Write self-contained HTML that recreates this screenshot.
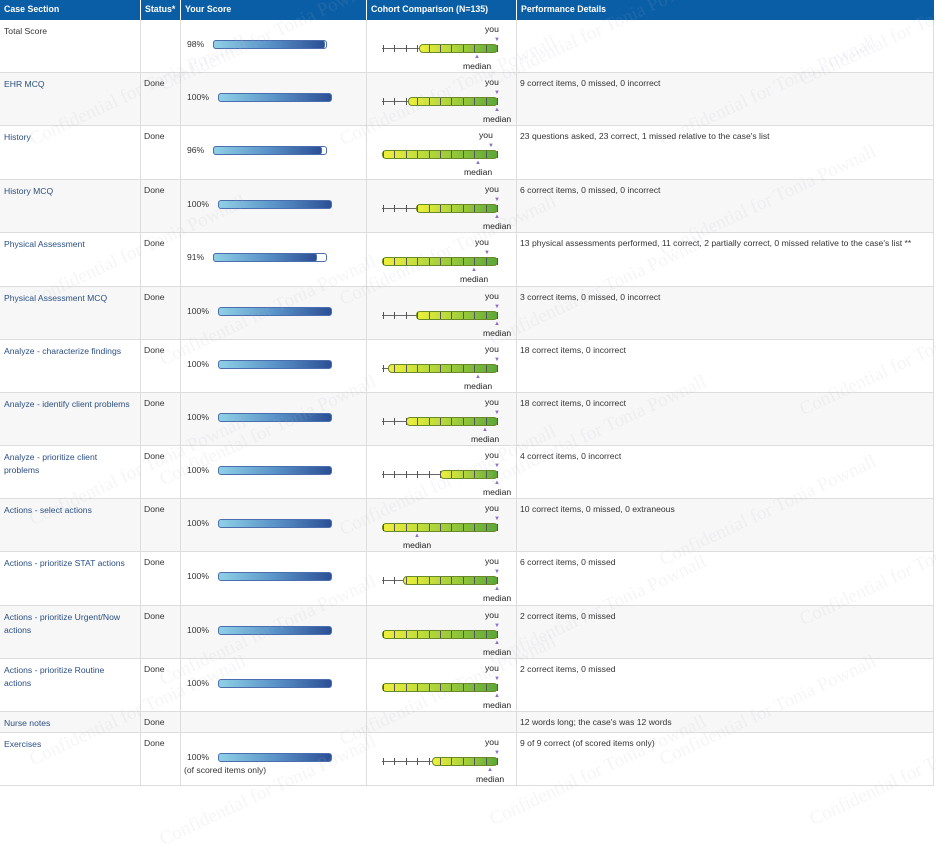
<!DOCTYPE html><html><head><style>
body{margin:0;width:936px;height:788px;background:#fff;font-family:"Liberation Sans",Arial,sans-serif;font-size:8.6px;color:#333;position:relative;overflow:hidden}
.a{position:absolute}
.hd{background:#0a5ea6;color:#fff;font-weight:bold;font-size:8.8px;top:0;height:20px;line-height:19px;padding-left:4px;box-sizing:border-box}
.row{position:absolute;left:0;width:934px;border-bottom:1px solid #ddd}
.vl{position:absolute;top:0;bottom:0;width:1px;background:#ddd}
.nm{color:#2a4f82}
.sb{position:absolute;height:9px;border:1px solid #4b6fae;border-radius:3px;background:linear-gradient(90deg,#8fd0e6,#5a93c8 50%,#2c4f95);box-sizing:border-box}
.wm{position:absolute;color:rgba(170,180,200,0.13);font-family:"Liberation Serif",serif;font-size:19px;transform:rotate(-25deg);white-space:nowrap;pointer-events:none}
</style></head><body>
<div class="a hd" style="left:0;width:140px">Case Section</div>
<div class="a hd" style="left:141px;width:39px">Status*</div>
<div class="a hd" style="left:181px;width:185px">Your Score</div>
<div class="a hd" style="left:367px;width:149px">Cohort Comparison (N=135)</div>
<div class="a hd" style="left:517px;width:417px">Performance Details</div>
<div id="c"></div>
<script>
var R=[["Total Score","",20,73,98,"",419,477,497,"",""],
["EHR MCQ","Done",73,126,100,"",408,497,497,"9 correct items, 0 missed, 0 incorrect"],
["History","Done",126,180,96,"",382,478,491,"23 questions asked, 23 correct, 1 missed relative to the case's list"],
["History MCQ","Done",180,233,100,"",416,497,497,"6 correct items, 0 missed, 0 incorrect"],
["Physical Assessment","Done",233,287,91,"",382,474,487,"13 physical assessments performed, 11 correct, 2 partially correct, 0 missed relative to the case's list **"],
["Physical Assessment MCQ","Done",287,340,100,"",416,497,497,"3 correct items, 0 missed, 0 incorrect"],
["Analyze - characterize findings","Done",340,393,100,"",388,478,497,"18 correct items, 0 incorrect"],
["Analyze - identify client problems","Done",393,446,100,"",406,485,497,"18 correct items, 0 incorrect"],
["Analyze - prioritize client<br>problems","Done",446,499,100,"",440,497,497,"4 correct items, 0 incorrect"],
["Actions - select actions","Done",499,552,100,"",382,417,497,"10 correct items, 0 missed, 0 extraneous"],
["Actions - prioritize STAT actions","Done",552,606,100,"",403,497,497,"6 correct items, 0 missed"],
["Actions - prioritize Urgent/Now<br>actions","Done",606,659,100,"",382,497,497,"2 correct items, 0 missed"],
["Actions - prioritize Routine<br>actions","Done",659,712,100,"",382,497,497,"2 correct items, 0 missed"],
["Nurse notes","Done",712,733,null,"",0,0,0,"12 words long; the case's was 12 words"],
["Exercises","Done",733,786,100,"(of scored items only)",432,490,497,"9 of 9 correct (of scored items only)"]];
var h="";
R.forEach(function(r,i){
 var t=r[2],H=r[3]-t;
 h+='<div class="row" style="top:'+t+'px;height:'+(H-1)+'px;background:'+(i%2?'#f7f7f7':'#fff')+'">';
 [140,180,366,516,933].forEach(function(x){h+='<div class="vl" style="left:'+x+'px"></div>'});
 h+='<div class="a '+(i?'nm':'')+'" style="left:4px;top:5px;line-height:13px">'+r[0]+'</div>';
 h+='<div class="a" style="left:144px;top:5px">'+r[1]+'</div>';
 h+='<div class="a" style="left:520px;top:5px;white-space:nowrap">'+r[9]+'</div>';
 if(r[4]!=null){
  var full=r[4]==100, ly=17;
  h+='<div class="a" style="left:187px;top:'+(ly+2)+'px">'+r[4]+'%</div>';
  if(full) h+='<div class="sb" style="left:218px;top:'+(ly+3)+'px;width:114px"></div>';
  else { h+='<div class="a" style="left:213px;top:'+(ly+3)+'px;width:114px;height:9px;border:1px solid #4b6fae;border-radius:3px;box-sizing:border-box;background:#fff"></div>';
   h+='<div class="sb" style="left:213px;top:'+(ly+3)+'px;width:'+Math.round(114*r[4]/100)+'px"></div>';}
  if(r[5]) h+='<div class="a" style="left:184px;top:'+(ly+15)+'px">'+r[5]+'</div>';
  var ay=25;
  h+='<div class="a" style="left:382px;top:'+(ay+3)+'px;width:116px;height:1px;background:#666"></div>';
  h+='<div class="a" style="left:'+r[6]+'px;top:'+(ay-1)+'px;width:'+(498-r[6])+'px;height:9px;border:1px solid #6a8a2a;border-radius:4px;box-sizing:border-box;background:linear-gradient(90deg,#eef03a,#b6d83a 40%,#5aa838)"></div>';
  for(var k=0;k<=10;k++){var x=383+k*11.4;h+='<div class="a" style="left:'+x+'px;top:'+(ay)+'px;width:1px;height:7px;background:#555"></div>'}
  h+='<div class="a" style="left:'+(r[8]-12)+'px;top:'+(ay-21)+'px;color:#222">you</div>';
  h+='<div class="a" style="left:'+(r[8]-3)+'px;top:'+(ay-8)+'px;color:#8a6fc8;font-size:6px">&#9660;</div>';
  h+='<div class="a" style="left:'+(r[7]-3)+'px;top:'+(ay+9)+'px;color:#8a6fc8;font-size:6px">&#9650;</div>';
  h+='<div class="a" style="left:'+(r[7]-14)+'px;top:'+(ay+16)+'px;color:#222">median</div>';
 }
 h+='</div>';
});
var wp=[[20,80],[330,80],[650,80],[150,25],[480,20],[790,20],[20,240],[330,240],[650,190],[150,300],[480,280],[790,350],[20,460],[330,470],[650,500],[150,420],[480,420],[790,560],[20,700],[330,680],[650,700],[150,620],[480,600],[800,760],[480,760],[150,780]];
wp.forEach(function(p){h+='<div class="wm" style="left:'+p[0]+'px;top:'+p[1]+'px">Confidential for Tonia Pownall</div>'});
document.getElementById('c').innerHTML=h;
</script>
</body></html>
